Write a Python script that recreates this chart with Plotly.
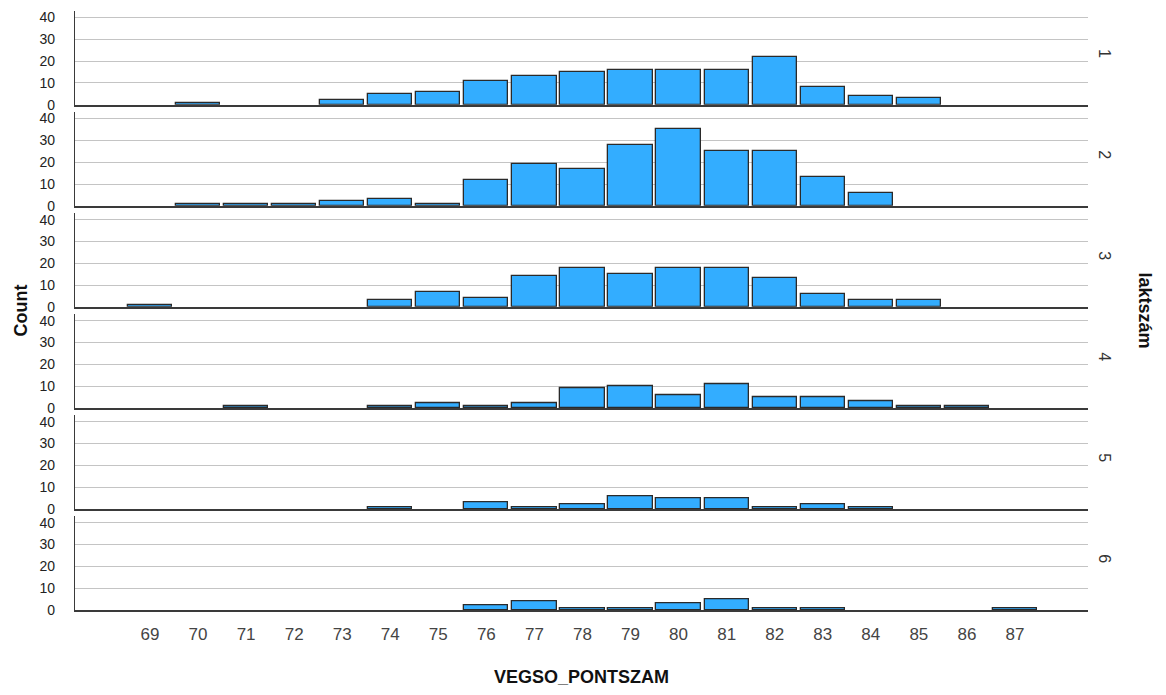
import plotly.graph_objects as go
from plotly.subplots import make_subplots

# VEGSO_PONTSZAM score categories
scores = list(range(69, 88))

# Counts per score, one list per laktszám group
count_lakt1 = [0, 1, 0, 0, 2, 5, 6, 11, 13, 15, 16, 16, 16, 22, 8, 4, 3, 0, 0]
count_lakt2 = [0, 1, 1, 1, 2, 3, 1, 12, 19, 17, 28, 35, 25, 25, 13, 6, 0, 0, 0]
count_lakt3 = [1, 0, 0, 0, 0, 3, 7, 4, 14, 18, 15, 18, 18, 13, 6, 3, 3, 0, 0]
count_lakt4 = [0, 0, 1, 0, 0, 1, 2, 1, 2, 9, 10, 6, 11, 5, 5, 3, 1, 1, 0]
count_lakt5 = [0, 0, 0, 0, 0, 1, 0, 3, 1, 2, 6, 5, 5, 1, 2, 1, 0, 0, 0]
count_lakt6 = [0, 0, 0, 0, 0, 0, 0, 2, 4, 1, 1, 3, 5, 1, 1, 0, 0, 0, 1]

group_labels = ["1", "2", "3", "4", "5", "6"]
group_counts = [count_lakt1, count_lakt2, count_lakt3, count_lakt4, count_lakt5, count_lakt6]

y_ticks = [0, 10, 20, 30, 40]

W, H = 1166, 695
M_L, M_R, M_T, M_B = 75, 78, 9, 85
plot_h = H - M_T - M_B
gap_px = 7.3
panel_px = (plot_h - 5 * gap_px) / 6

fig = make_subplots(rows=6, cols=1, shared_xaxes=True, vertical_spacing=gap_px / plot_h)

bar_fill = "#33adff"
bar_edge = "#2a2a2a"
FONT = "Liberation Sans, Arial, sans-serif"

for i, counts in enumerate(group_counts):
    xs = [s for s, c in zip(scores, counts) if c > 0]
    ys = [c for c in counts if c > 0]
    fig.add_trace(
        go.Bar(
            x=xs, y=ys, width=0.92,
            marker=dict(color=bar_fill, line=dict(color=bar_edge, width=1.3)),
            showlegend=False, hoverinfo="x+y",
        ),
        row=i + 1, col=1,
    )

for i in range(6):
    # explicit panel domains, top panel first
    top = 1 - i * (panel_px + gap_px) / plot_h
    bottom = top - panel_px / plot_h
    fig.update_yaxes(
        domain=[max(bottom, 0), min(top, 1)],
        range=[0, 43], tickvals=y_ticks, showgrid=True, gridcolor="#c4c4c4", gridwidth=1.3,
        zeroline=False, showline=True, linecolor="#3a3a3a", linewidth=1.3,
        ticks="", tickfont=dict(family=FONT, size=14, color="#222"), ticklabelstandoff=16,
        row=i + 1, col=1,
    )
    fig.update_xaxes(
        range=[67.44, 88.52], tickvals=scores, ticktext=[str(s) for s in scores],
        showgrid=False, zeroline=False, showline=True, linecolor="#3a3a3a", linewidth=1.6,
        ticks="", showticklabels=(i == 5),
        tickfont=dict(family=FONT, size=17, color="#444"),
        ticklabelstandoff=8,
        row=i + 1, col=1,
    )

annotations = []
# Group labels on the right side of each panel
for i, lab in enumerate(group_labels):
    yax = fig.layout["yaxis" if i == 0 else f"yaxis{i + 1}"]
    d0, d1 = yax.domain
    annotations.append(dict(
        x=1.0, xref="paper", xshift=17, xanchor="center",
        y=(d0 + d1) / 2 + 0.008, yref="paper", yanchor="middle",
        text=lab, showarrow=False, textangle=90,
        font=dict(family=FONT, size=16, color="#333"),
    ))

annotations.append(dict(
    x=1.0, xref="paper", xshift=57, xanchor="center", y=0.5, yref="paper", yanchor="middle",
    text="<b>laktszám</b>", showarrow=False, textangle=90,
    font=dict(family=FONT, size=18, color="#111"),
))
annotations.append(dict(
    x=0, xref="paper", xshift=-55, xanchor="center", y=0.5, yref="paper", yanchor="middle",
    text="<b>Count</b>", showarrow=False, textangle=-90,
    font=dict(family=FONT, size=18, color="#111"),
))
annotations.append(dict(
    x=0.5, xref="paper", xanchor="center", y=0, yref="paper", yanchor="middle", yshift=-67,
    text="<b>VEGSO_PONTSZAM</b>", showarrow=False,
    font=dict(family=FONT, size=18, color="#111"),
))

fig.update_layout(
    width=W, height=H,
    margin=dict(l=M_L, r=M_R, t=M_T, b=M_B),
    paper_bgcolor="white", plot_bgcolor="white",
    bargap=0, annotations=annotations,
)

fig.write_html("out.html")
